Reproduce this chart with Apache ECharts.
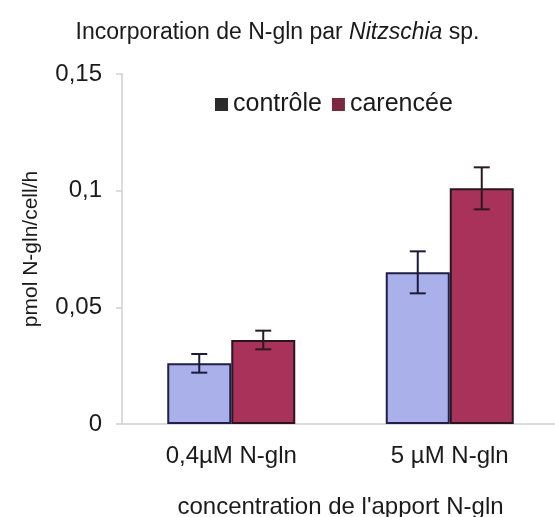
<!DOCTYPE html>
<html>
<head>
<meta charset="utf-8">
<script src="https://cdn.jsdelivr.net/npm/echarts@6/dist/echarts.min.js"></script>
<style>
  html, body { margin: 0; padding: 0; background: #fff; }
  #chart { width: 555px; height: 517px; }
</style>
</head>
<body>
<div id="chart"></div>
<script>
// Glutamine-N uptake by Nitzschia sp.
const categories = ['0,4µM N-gln', '5 µM N-gln'];
const controleValues = [0.026, 0.065];
const controleErrors = [0.004, 0.009];
const carenceeValues = [0.036, 0.101];
const carenceeErrors = [0.004, 0.009];
const yTicks = [0, 0.05, 0.1, 0.15];

const BAR_W = 64;
const FONT = '"Liberation Sans", Arial, sans-serif';
const INK = '#1a1a1a';

function errData(vals, errs) {
  return vals.map((v, i) => [i, v - errs[i], v + errs[i]]);
}

// I-beam error bar centred on one of the two bars of a group
function errorRenderer(offset, color) {
  return function (params, api) {
    const i = api.value(0);
    const lo = api.coord([i, api.value(1)]);
    const hi = api.coord([i, api.value(2)]);
    const x = lo[0] + offset;
    const cap = 8;
    const style = { stroke: color, lineWidth: 2 };
    return {
      type: 'group',
      children: [
        { type: 'line', shape: { x1: x, y1: hi[1], x2: x, y2: lo[1] }, style },
        { type: 'line', shape: { x1: x - cap, y1: hi[1], x2: x + cap, y2: hi[1] }, style },
        { type: 'line', shape: { x1: x - cap, y1: lo[1], x2: x + cap, y2: lo[1] }, style }
      ]
    };
  };
}

const chart = echarts.init(document.getElementById('chart'));
chart.setOption({
  backgroundColor: '#ffffff',
  animation: false,
  textStyle: { fontFamily: FONT },
  title: {
    text: '{n|Incorporation de N-gln par }{i|Nitzschia}{n| sp.}',
    left: 'center',
    top: 20,
    padding: 0,
    textStyle: {
      rich: {
        n: { fontFamily: FONT, fontSize: 23, lineHeight: 26, color: INK, fontWeight: 'normal' },
        i: { fontFamily: FONT, fontSize: 23, lineHeight: 26, color: INK, fontWeight: 'normal', fontStyle: 'italic' }
      }
    }
  },
  legend: {
    left: 215,
    top: 92,
    padding: 0,
    itemWidth: 13,
    itemHeight: 13,
    itemGap: 10,
    icon: 'rect',
    textStyle: { fontFamily: FONT, fontSize: 25, color: INK, padding: [0, 0, 0, 0] },
    data: [
      { name: 'contrôle', itemStyle: { color: '#2b2b2b', borderWidth: 0 } },
      { name: 'carencée', itemStyle: { color: '#7b2840', borderWidth: 0 } }
    ]
  },
  grid: { left: 122, right: -4, top: 74, bottom: 93, outerBoundsMode: 'none', containLabel: false },
  xAxis: {
    type: 'category',
    data: categories,
    axisLine: { show: true, lineStyle: { color: '#cfcfcf', width: 1.5 } },
    axisTick: { show: false },
    axisLabel: { fontFamily: FONT, fontSize: 24, color: INK, margin: 20 },
    name: "concentration de l'apport N-gln",
    nameLocation: 'middle',
    nameGap: 71,
    nameTextStyle: { fontFamily: FONT, fontSize: 24, color: INK }
  },
  yAxis: {
    type: 'value',
    min: 0,
    max: 0.15,
    interval: 0.05,
    axisLine: { show: true, lineStyle: { color: '#cfcfcf', width: 1.5 } },
    axisTick: { show: true, length: 6, inside: false, lineStyle: { color: '#cfcfcf', width: 1.5 } },
    splitLine: { show: false },
    axisLabel: {
      fontFamily: FONT, fontSize: 24, color: INK, margin: 20,
      formatter: v => {
        const t = yTicks.find(k => Math.abs(k - v) < 1e-9);
        return t === 0 ? '0' : String(+t.toFixed(2)).replace('.', ',');
      }
    },
    name: 'pmol N-gln/cell/h',
    nameLocation: 'middle',
    nameGap: 80,
    nameRotate: 90,
    nameTextStyle: { fontFamily: FONT, fontSize: 21, color: INK }
  },
  series: [
    {
      name: 'contrôle',
      type: 'bar',
      data: controleValues,
      barWidth: BAR_W,
      barGap: '0%',
      itemStyle: { color: '#aab1ea', borderColor: '#1e1f4a', borderWidth: 2 }
    },
    {
      name: 'carencée',
      type: 'bar',
      data: carenceeValues,
      barWidth: BAR_W,
      barGap: '0%',
      itemStyle: { color: '#a8325a', borderColor: '#2a1420', borderWidth: 2 }
    },
    {
      type: 'custom',
      name: 'err-controle',
      renderItem: errorRenderer(-BAR_W / 2, '#1a1a3a'),
      data: errData(controleValues, controleErrors),
      encode: { x: 0, y: [1, 2] },
      z: 5
    },
    {
      type: 'custom',
      name: 'err-carencee',
      renderItem: errorRenderer(BAR_W / 2, '#2a1a1e'),
      data: errData(carenceeValues, carenceeErrors),
      encode: { x: 0, y: [1, 2] },
      z: 5
    }
  ]
});
</script>
</body>
</html>
